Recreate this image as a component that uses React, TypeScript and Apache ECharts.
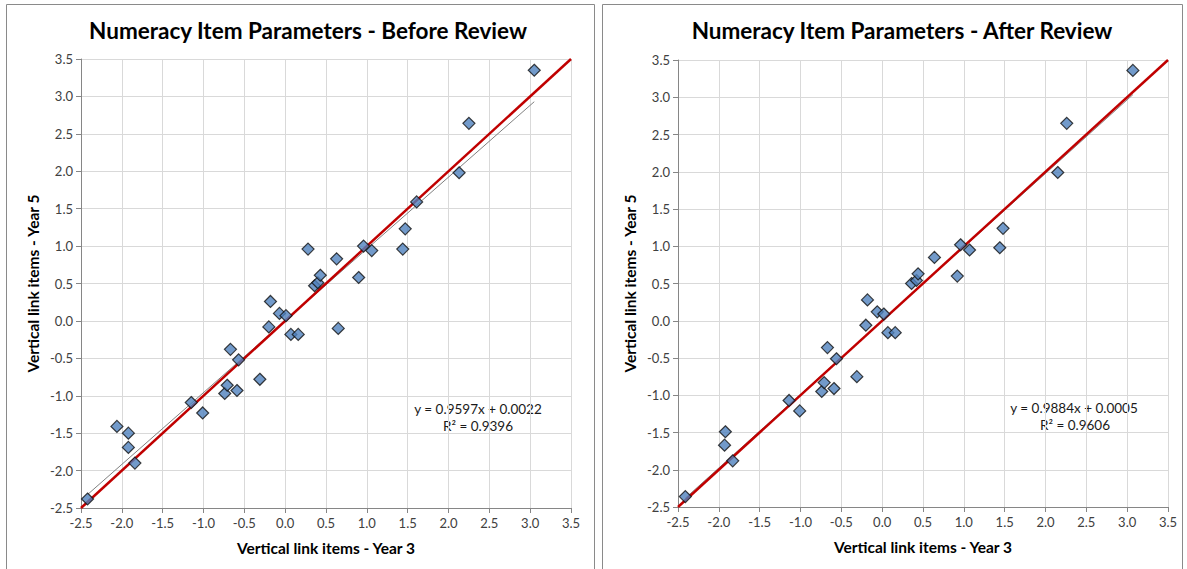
import React, { useEffect, useRef } from "react";
import * as echarts from "echarts";

// ---- Data ----
const beforeX = [-2.42, -2.06, -1.92, -1.92, -1.84, -1.15, -1.01, -0.74, -0.71, -0.67, -0.59, -0.57, -0.31, -0.2, -0.18, -0.07, 0.01, 0.07, 0.16, 0.28, 0.36, 0.4, 0.43, 0.65, 0.63, 0.9, 0.96, 1.06, 1.44, 1.47, 1.61, 2.13, 2.25, 3.05];
const beforeY = [-2.38, -1.41, -1.5, -1.69, -1.9, -1.09, -1.23, -0.97, -0.86, -0.38, -0.93, -0.52, -0.78, -0.08, 0.26, 0.1, 0.07, -0.18, -0.18, 0.96, 0.47, 0.51, 0.61, -0.1, 0.83, 0.58, 1.0, 0.94, 0.96, 1.23, 1.59, 1.98, 2.64, 3.35];

const afterX = [-2.41, -1.92, -1.93, -1.83, -1.14, -1.01, -0.74, -0.71, -0.67, -0.59, -0.56, -0.31, -0.2, -0.18, -0.06, 0.02, 0.07, 0.16, 0.36, 0.42, 0.44, 0.64, 0.92, 0.96, 1.07, 1.44, 1.48, 2.15, 2.26, 3.07];
const afterY = [-2.36, -1.49, -1.67, -1.88, -1.07, -1.21, -0.95, -0.83, -0.36, -0.91, -0.51, -0.75, -0.06, 0.28, 0.12, 0.09, -0.16, -0.16, 0.5, 0.54, 0.63, 0.85, 0.6, 1.02, 0.95, 0.98, 1.24, 1.99, 2.65, 3.36];

const beforeSlope = 0.9597;
const beforeIntercept = 0.0022;
const beforeR2 = "0.9396";
const afterSlope = 0.9884;
const afterIntercept = 0.0005;
const afterR2 = "0.9606";

const axisMin = -2.5;
const axisMax = 3.5;
const axisStep = 0.5;

const titles = ["Numeracy Item Parameters - Before Review", "Numeracy Item Parameters - After Review"];
const xName = "Vertical link items - Year 3";
const yName = "Vertical link items - Year 5";

const FONT = "Lato, 'Open Sans', sans-serif";

function pairs(xs: number[], ys: number[]) {
  return xs.map((x, i) => [x, ys[i]]);
}
function trend(xs: number[], m: number, b: number) {
  const lo = Math.min(...xs);
  const hi = Math.max(...xs);
  return [
    [lo, m * lo + b],
    [hi, m * hi + b],
  ];
}

export default function App() {
  const ref = useRef<HTMLDivElement>(null);
  useEffect(() => {
    if (!ref.current) return;
    const chart = echarts.init(ref.current, null, { renderer: "svg" });

    const grids = [
      { left: 81, top: 59, width: 490, height: 449 },
      { left: 678, top: 60, width: 490, height: 447 },
    ];

    const mkX = (i: number) => ({
      type: "value",
      gridIndex: i,
      min: axisMin,
      max: axisMax,
      interval: axisStep,
      name: xName,
      nameLocation: "middle",
      nameGap: 32,
      nameTextStyle: { fontFamily: FONT, fontSize: 15.5, fontWeight: "bold", color: "#000" },
      axisLine: { show: true, onZero: false, lineStyle: { color: "#868686", width: 1 } },
      axisTick: { show: true, length: 5, lineStyle: { color: "#868686" } },
      axisLabel: { fontFamily: FONT, fontSize: 13, color: "#404040", margin: 8, formatter: (v: number) => v.toFixed(1) },
      splitLine: { show: true, lineStyle: { color: "#d9d9d9", width: 1 } },
    });
    const mkY = (i: number) => ({
      type: "value",
      gridIndex: i,
      min: axisMin,
      max: axisMax,
      interval: axisStep,
      name: yName,
      nameLocation: "middle",
      nameGap: 40,
      nameRotate: 90,
      nameTextStyle: { fontFamily: FONT, fontSize: 15.5, fontWeight: "bold", color: "#000" },
      axisLine: { show: true, onZero: false, lineStyle: { color: "#868686", width: 1 } },
      axisTick: { show: true, length: 5, lineStyle: { color: "#868686" } },
      axisLabel: { fontFamily: FONT, fontSize: 13, color: "#404040", margin: 8, formatter: (v: number) => v.toFixed(1) },
      splitLine: { show: true, lineStyle: { color: "#d9d9d9", width: 1 } },
    });

    const scatter = (i: number, data: number[][]) => ({
      type: "scatter",
      xAxisIndex: i,
      yAxisIndex: i,
      data,
      symbol: "diamond",
      symbolSize: 12,
      z: 5,
      itemStyle: { color: "#4F81BD", borderColor: "#111", borderWidth: 1.2 },
    });
    const trendLine = (i: number, data: number[][]) => ({
      type: "line",
      xAxisIndex: i,
      yAxisIndex: i,
      data,
      symbol: "none",
      z: 3,
      lineStyle: { color: "#808080", width: 1 },
    });
    const identity = (i: number) => ({
      type: "line",
      xAxisIndex: i,
      yAxisIndex: i,
      data: [
        [axisMin, axisMin],
        [axisMax, axisMax],
      ],
      symbol: "none",
      z: 4,
      lineStyle: { color: "#C00000", width: 2.5 },
    });

    const eqText = (m: number, b: number) => `y = ${m.toFixed(4)}x + ${b.toFixed(4)}`;

    chart.setOption({
      animation: false,
      backgroundColor: "#ffffff",
      title: [
        { text: titles[0], left: 303, top: 14, textAlign: "center", textStyle: { fontFamily: FONT, fontSize: 22.5, fontWeight: "bold", color: "#000" } },
        { text: titles[1], left: 897, top: 14, textAlign: "center", textStyle: { fontFamily: FONT, fontSize: 22.5, fontWeight: "bold", color: "#000" } },
      ],
      grid: grids,
      xAxis: [mkX(0), mkX(1)],
      yAxis: [mkY(0), mkY(1)],
      series: [
        trendLine(0, trend(beforeX, beforeSlope, beforeIntercept)),
        identity(0),
        scatter(0, pairs(beforeX, beforeY)),
        trendLine(1, trend(afterX, afterSlope, afterIntercept)),
        identity(1),
        scatter(1, pairs(afterX, afterY)),
      ],
      graphic: [
        { type: "rect", shape: { x: 6.5, y: 4.5, width: 588, height: 580 }, style: { fill: "none", stroke: "#8a8a8a", lineWidth: 1 }, silent: true },
        { type: "rect", shape: { x: 602.5, y: 4.5, width: 580, height: 580 }, style: { fill: "none", stroke: "#8a8a8a", lineWidth: 1 }, silent: true },
        { type: "text", x: 478, y: 409, style: { text: eqText(beforeSlope, beforeIntercept), fontFamily: FONT, fontSize: 13.5, fill: "#1a1a1a", align: "center", verticalAlign: "middle" } },
        { type: "text", x: 478, y: 426, style: { text: `R² = ${beforeR2}`, fontFamily: FONT, fontSize: 13.5, fill: "#1a1a1a", align: "center", verticalAlign: "middle" } },
        { type: "text", x: 1074, y: 408, style: { text: eqText(afterSlope, afterIntercept), fontFamily: FONT, fontSize: 13.5, fill: "#1a1a1a", align: "center", verticalAlign: "middle" } },
        { type: "text", x: 1075, y: 425, style: { text: `R² = ${afterR2}`, fontFamily: FONT, fontSize: 13.5, fill: "#1a1a1a", align: "center", verticalAlign: "middle" } },
      ],
    });
    return () => chart.dispose();
  }, []);

  return <div ref={ref} style={{ position: "fixed", left: 0, top: 0, width: 1187, height: 569, background: "#fff" }} />;
}
